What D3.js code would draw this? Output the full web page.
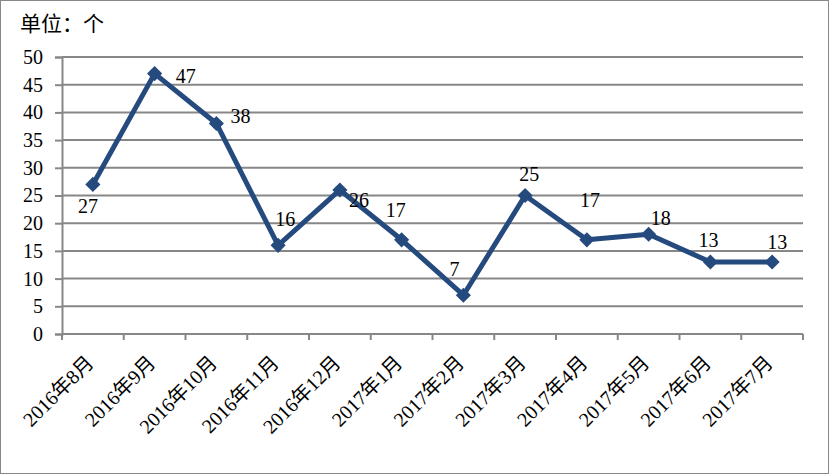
<!DOCTYPE html>
<html><head><meta charset="utf-8">
<script src="https://cdn.jsdelivr.net/npm/d3@7"></script>
<style>body{margin:0;background:#fff}svg{display:block}</style>
</head><body>
<script>
const categories = ["2016年8月","2016年9月","2016年10月","2016年11月","2016年12月","2017年1月","2017年2月","2017年3月","2017年4月","2017年5月","2017年6月","2017年7月"];
const values = [27,47,38,16,26,17,7,25,17,18,13,13];
const yTicks = [0,5,10,15,20,25,30,35,40,45,50];
const unitLabel = "单位：个";
// label centre offsets [dx, dy] from each point
const labelPos = [[-5,22],[31,2],[24,-7],[7,-26],[19,10],[-6,-30],[-9,-26],[4,-22],[3,-40],[12,-16],[-2,-22],[5,-20]];

const W = 829, H = 474;
const m = {l:62, r:803, t:57, b:334};
const FONT = '"Liberation Serif", "Noto Sans CJK SC"';
const svg = d3.select("body").append("svg").attr("width",W).attr("height",H);
svg.append("rect").attr("x",0.5).attr("y",0.5).attr("width",W-1).attr("height",H-1)
  .attr("fill","#fff").attr("stroke","#888").attr("stroke-width",1);

const x = d3.scaleBand().domain(categories).range([m.l,m.r]);
const y = d3.scaleLinear().domain([0,50]).range([m.b,m.t]);

// gridlines
svg.append("g").selectAll("line").data(yTicks).join("line")
  .attr("x1",m.l).attr("x2",m.r).attr("y1",d=>y(d)).attr("y2",d=>y(d))
  .attr("stroke","#878787").attr("stroke-width",2);

// y axis
const ya = svg.append("g").attr("transform",`translate(${m.l},0)`)
  .call(d3.axisLeft(y).tickValues(yTicks).tickSize(7).tickPadding(12));
ya.attr("font-family",null);
ya.select(".domain").attr("stroke","#878787").attr("stroke-width",2);
ya.selectAll(".tick line").attr("stroke","#878787").attr("stroke-width",2);
ya.selectAll("text").style("font-family",FONT).style("font-size","20px").attr("fill","#000");

// x axis
const xa = svg.append("g").attr("transform",`translate(0,${m.b})`)
  .call(d3.axisBottom(x).tickSize(0));
xa.attr("font-family",null);
xa.select(".domain").remove();
const bounds = [m.l, ...categories.map(c=>x(c)+x.bandwidth())];
svg.append("g").selectAll("line").data(bounds).join("line")
  .attr("x1",d=>d).attr("x2",d=>d).attr("y1",m.b).attr("y2",m.b+6)
  .attr("stroke","#878787").attr("stroke-width",2);
svg.append("line").attr("x1",m.l).attr("x2",m.r).attr("y1",m.b).attr("y2",m.b)
  .attr("stroke","#878787").attr("stroke-width",2);
xa.selectAll("text")
  .style("font-family",FONT).style("font-size","20px").attr("fill","#000")
  .attr("text-anchor","end")
  .attr("transform","translate(2,30) rotate(-45)")
  .attr("dy",0).attr("y",0);

// line
const cx = c => x(c) + x.bandwidth()/2;
svg.append("path").datum(values)
  .attr("fill","none").attr("stroke","#254A7E").attr("stroke-width",5).attr("stroke-linejoin","round")
  .attr("d", d3.line().x((d,i)=>cx(categories[i])).y(d=>y(d)));

// markers (square rotated 45°)
svg.append("g").selectAll("path").data(values).join("path")
  .attr("d", d3.symbol().type(d3.symbolSquare).size(115))
  .attr("transform",(d,i)=>`translate(${cx(categories[i])},${y(d)}) rotate(45)`)
  .attr("fill","#254A7E");

// labels
svg.append("g").selectAll("text").data(values).join("text")
  .attr("x",(d,i)=>cx(categories[i])+labelPos[i][0])
  .attr("y",(d,i)=>y(d)+labelPos[i][1])
  .attr("dy","0.35em")
  .attr("text-anchor","middle")
  .style("font-family",FONT).style("font-size","20px").attr("fill","#000")
  .text(d=>d);

svg.append("text").attr("x",20).attr("y",31).style("font-family",FONT).style("font-size","21px")
  .attr("fill","#000").text(unitLabel);
</script>
</body></html>
